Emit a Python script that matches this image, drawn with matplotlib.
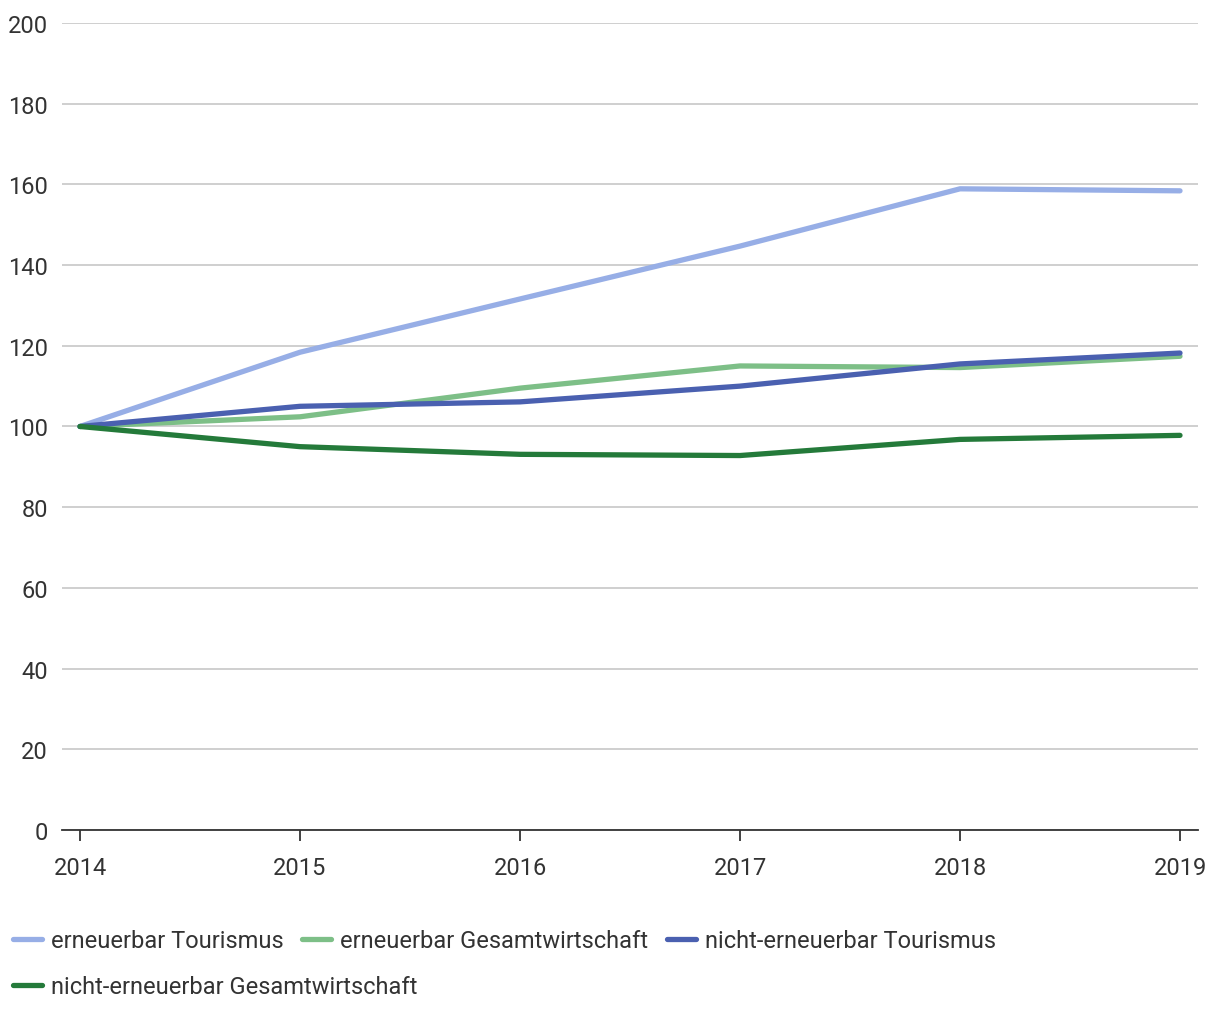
import matplotlib.pyplot as plt

plt.rcParams['font.family'] = ['Roboto', 'DejaVu Sans']
plt.rcParams['font.weight'] = 'normal'

years = [2014, 2015, 2016, 2017, 2018, 2019]
ern_tour = [100, 118.4, 131.6, 144.7, 158.9, 158.4]
ern_gesamt = [100, 102.4, 109.5, 115.0, 114.6, 117.4]
nicht_tour = [100, 105.0, 106.1, 110.0, 115.5, 118.2]
nicht_gesamt = [100, 95.0, 93.1, 92.8, 96.8, 97.8]

labels = ["erneuerbar Tourismus", "erneuerbar Gesamtwirtschaft",
          "nicht-erneuerbar Tourismus", "nicht-erneuerbar Gesamtwirtschaft"]
colors = ["#97aee6", "#7dbf87", "#4a60b0", "#247a3a"]
series = [ern_tour, ern_gesamt, nicht_tour, nicht_gesamt]

fig = plt.figure(figsize=(12.2, 10.2), dpi=100)
ax = fig.add_axes([0.0508, 0.1853, 0.9312, 0.7912])

handles = []
for vals, lab, col in zip(series, labels, colors):
    h, = ax.plot(years, vals, color=col, lw=3.8, solid_capstyle='round',
                 solid_joinstyle='round', label=lab)
    handles.append(h)

ax.set_ylim(0, 200)
ax.set_xlim(2014 - 0.082, 2019 + 0.082)
ax.set_yticks(range(0, 201, 20))
ax.set_xticks(years)
ax.grid(axis='y', color='#cccccc', lw=1.3)
ax.set_axisbelow(True)
for s in ['top', 'right', 'left']:
    ax.spines[s].set_visible(False)
ax.spines['bottom'].set_color('#333333')
ax.spines['bottom'].set_linewidth(1.3)
ax.tick_params(axis='y', length=0, pad=10, labelsize=17, labelcolor='#333333')
ax.tick_params(axis='x', length=8, width=1.3, color='#333333', pad=11,
               labelsize=17, labelcolor='#333333')

leg_kw = dict(loc='upper left', frameon=False, fontsize=17,
              handlelength=1.2, handletextpad=0.4, columnspacing=0.8,
              borderaxespad=0, borderpad=0.3)
leg1 = fig.legend(handles[:3], labels[:3], ncol=3,
                  bbox_to_anchor=(0.005, 0.095), **leg_kw)
leg2 = fig.legend(handles[3:], labels[3:],
                  bbox_to_anchor=(0.005, 0.05), **leg_kw)
for leg in (leg1, leg2):
    for t in leg.get_texts():
        t.set_color('#333333')

fig.savefig('out.png', dpi=100)
